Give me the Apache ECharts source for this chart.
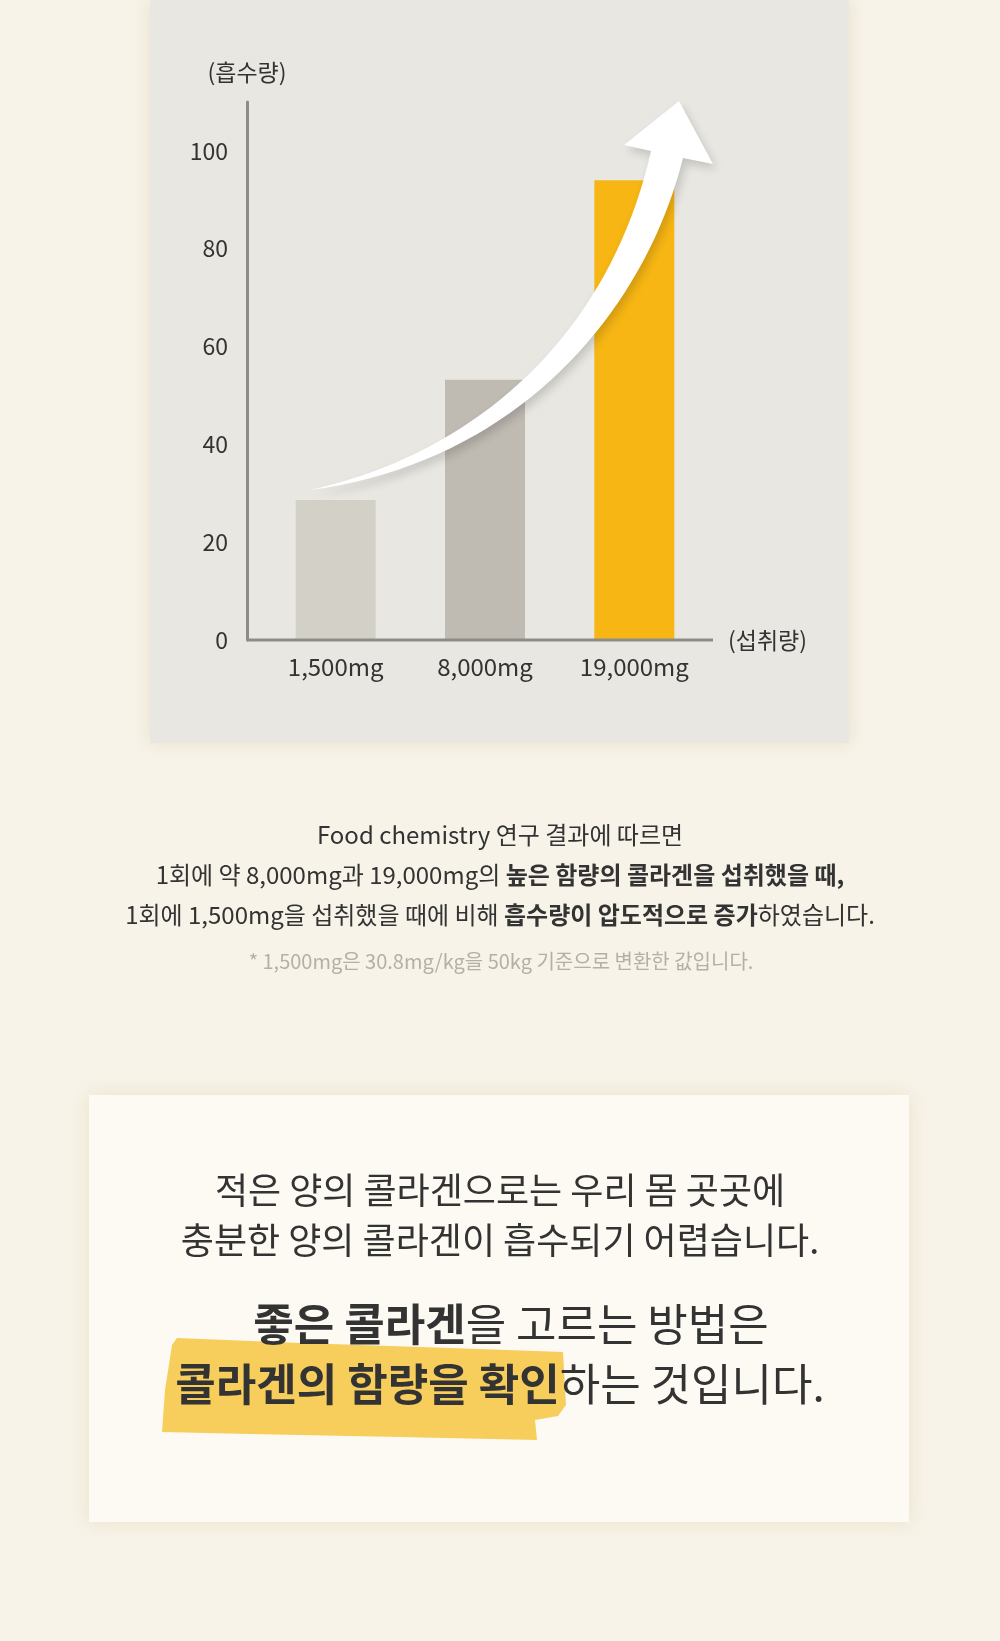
<!DOCTYPE html>
<html>
<head>
<meta charset="utf-8">
<script src="https://cdn.jsdelivr.net/npm/echarts@6/dist/echarts.min.js"></script>
<style>
  html, body { margin: 0; padding: 0; background: #f7f3e8; }
  #main { width: 1000px; height: 1641px; }
</style>
</head>
<body>
<div id="main"></div>
<script>
// 섭취량별 흡수량
const categories = ['1,500mg', '8,000mg', '19,000mg'];
const absorption = [28.6, 53.2, 94];
const barColors = ['#d3d0c8', '#bfbab2', '#f7b614'];
const yTickStep = 20;
const yMax = 110;

const FONT = 'Noto Sans CJK KR';

function textLine(id, x, y, size, rich, text) {
  const style = {
    x: x, y: y, text: text, align: 'center', verticalAlign: 'middle',
    fontFamily: FONT, fontSize: size, fill: '#333'
  };
  if (rich) style.rich = rich;
  return { type: 'text', id: id, z: 20, style: style };
}

// sample a cubic bezier into points (for the decorative arrow)
function bez(p0, p1, p2, p3, n) {
  const pts = [];
  for (let i = 0; i <= n; i++) {
    const t = i / n, u = 1 - t;
    pts.push([
      u*u*u*p0[0] + 3*u*u*t*p1[0] + 3*u*t*t*p2[0] + t*t*t*p3[0],
      u*u*u*p0[1] + 3*u*u*t*p1[1] + 3*u*t*t*p2[1] + t*t*t*p3[1]
    ]);
  }
  return pts;
}

function arrowPoints() {
  const upper = bez([310, 490], [480, 452], [610, 332], [651, 151], 40);
  const head = [[624, 145], [679, 101], [713, 164]];
  const lower = bez([683, 158], [645, 310], [520, 462], [310, 490], 40);
  return upper.concat(head, lower);
}

function initOpt() {
  const smallRich = {
    r: { fontFamily: FONT, fontSize: 24, color: '#333', fontWeight: 400 },
    b: { fontFamily: FONT, fontSize: 24, color: '#222', fontWeight: 700 }
  };
  const bigRich = {
    r: { fontFamily: FONT, fontSize: 44, color: '#333', fontWeight: 400 },
    b: { fontFamily: FONT, fontSize: 44, color: '#333', fontWeight: 700 }
  };

  return {
    backgroundColor: '#f7f3e8',
    animation: false,
    grid: { left: 261, right: 291, top: 102, bottom: 1001, containLabel: false },
    xAxis: {
      type: 'category',
      data: categories,
      axisLine: { show: false },
      axisTick: { show: false },
      axisLabel: { color: '#333', fontSize: 24, fontFamily: FONT, margin: 15 },
      name: '(섭취량)',
      nameLocation: 'end',
      nameGap: 19,
      nameTextStyle: { color: '#333', fontSize: 23, fontFamily: FONT }
    },
    yAxis: {
      type: 'value',
      min: 0,
      max: yMax,
      interval: yTickStep,
      offset: 14,
      axisLine: { show: true, lineStyle: { color: '#8e8c88', width: 3 } },
      axisTick: { show: false },
      splitLine: { show: false },
      axisLabel: { color: '#333', fontSize: 23, fontFamily: FONT, margin: 19, showMaxLabel: false },
      name: '(흡수량)',
      nameLocation: 'end',
      nameGap: 18,
      nameTextStyle: { color: '#333', fontSize: 23, fontFamily: FONT, align: 'center' }
    },
    series: [{
      type: 'bar',
      barWidth: 80,
      z: 3,
      data: absorption.map((v, i) => ({ value: v, itemStyle: { color: barColors[i] } }))
    }],
    graphic: [
      // chart panel
      { type: 'rect', id: 'panel', z: -10,
        shape: { x: 150, y: 0, width: 699, height: 743 },
        style: { fill: '#e8e7e2', shadowBlur: 16, shadowColor: 'rgba(210,190,150,0.35)' } },
      // bottom card
      { type: 'rect', id: 'card', z: -10,
        shape: { x: 89, y: 1095, width: 820, height: 427 },
        style: { fill: '#fdfaf3', shadowBlur: 18, shadowColor: 'rgba(215,195,150,0.35)' } },
      // white arrow
      { type: 'polygon', id: 'arrow', z: 10,
        shape: { points: arrowPoints() },
        style: { fill: '#ffffff', shadowBlur: 10, shadowOffsetX: 3, shadowOffsetY: 5, shadowColor: 'rgba(0,0,0,0.16)' } },
      // yellow brush highlight
      { type: 'polygon', id: 'brush', z: 5,
        shape: { points: [[177, 1338], [300, 1343], [450, 1348], [563, 1352], [566, 1405], [558, 1416], [535, 1420], [537, 1440], [400, 1437], [250, 1434], [162, 1432], [165, 1390], [172, 1345]] },
        style: { fill: '#f6c94f', opacity: 0.92 } },
      // text under the chart
      textLine('t1', 500, 835, 24, smallRich, '{r|Food chemistry 연구 결과에 따르면}'),
      textLine('t2', 500, 875, 24, smallRich, '{r|1회에 약 8,000mg과 19,000mg의 }{b|높은 함량의 콜라겐을 섭취했을 때,}'),
      textLine('t3', 500, 915, 24, smallRich, '{r|1회에 1,500mg을 섭취했을 때에 비해 }{b|흡수량이 압도적으로 증가}{r|하였습니다.}'),
      { type: 'text', id: 't4', z: 20,
        style: { x: 501, y: 961, text: '* 1,500mg은 30.8mg/kg을 50kg 기준으로 변환한 값입니다.', align: 'center', verticalAlign: 'middle',
          fontFamily: FONT, fontSize: 20, fill: '#b3b0a9' } },
      // card text
      textLine('c1', 500, 1190, 36, null, '적은 양의 콜라겐으로는 우리 몸 곳곳에'),
      textLine('c2', 500, 1240, 36, null, '충분한 양의 콜라겐이 흡수되기 어렵습니다.'),
      textLine('c3', 511, 1324, 44, bigRich, '{b|좋은 콜라겐}{r|을 고르는 방법은}'),
      textLine('c4', 500, 1384, 44, bigRich, '{b|콜라겐의 함량을 확인}{r|하는 것입니다.}')
    ]
  };
}

const myChart = echarts.init(document.getElementById('main'), null, { renderer: 'canvas' });
myChart.setOption(initOpt());

// x axis line, drawn across from the y axis to just past the last bar
const y0 = myChart.convertToPixel({ yAxisIndex: 0 }, 0);
myChart.setOption({
  graphic: [{
    type: 'line', id: 'xline', z: 4,
    shape: { x1: 247, y1: y0, x2: 713, y2: y0 },
    style: { stroke: '#8e8c88', lineWidth: 3 }
  }]
});
</script>
</body>
</html>
